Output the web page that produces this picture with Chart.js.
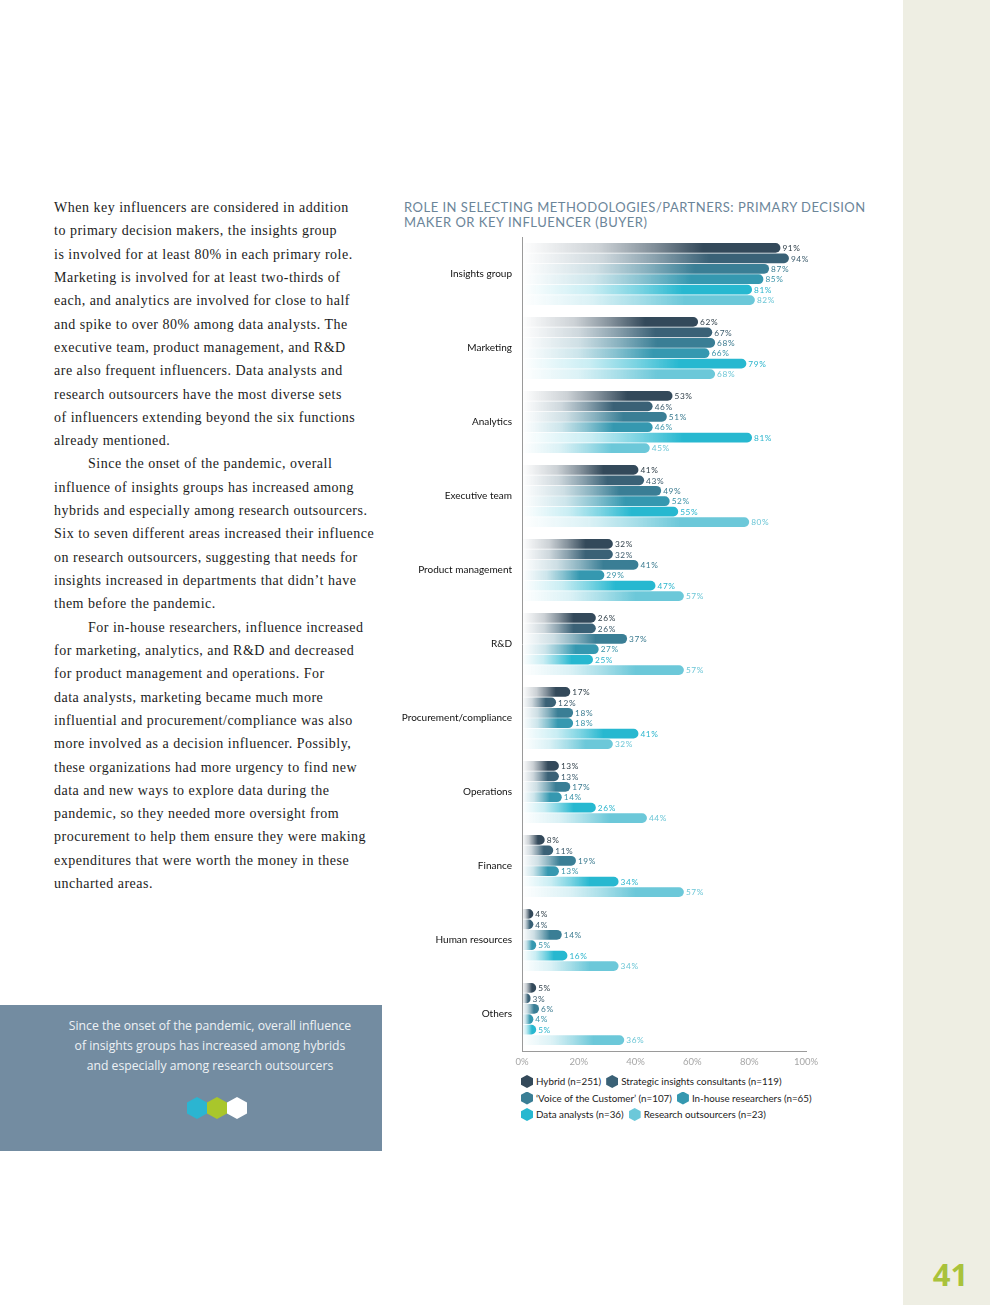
<!DOCTYPE html>
<html>
<head>
<meta charset="utf-8">
<script src="https://cdn.jsdelivr.net/npm/chart.js@4"></script>
<style>
  body { margin: 0; background: #fff; }
  .page { position: relative; width: 990px; height: 1305px; overflow: hidden; background: #fff; }
  .strip { position: absolute; left: 903px; top: 0; width: 87px; height: 1305px; background: #eeeee3; }
  .pagenum { position: absolute; left: 907px; width: 87px; top: 1253px; text-align: center; font: bold 31px "Open Sans", sans-serif; color: #a9c23b; }
  .body { position: absolute; left: 54px; top: 196px; font-family: "Liberation Serif", serif; font-size: 14px; line-height: 23.31px; color: #1c1c1c; white-space: nowrap; letter-spacing: 0.5px; }
  .body .ind { padding-left: 34px; }
  .callout { position: absolute; left: 0; top: 1005px; width: 382px; height: 146px; background: #738ca1; }
  .callout p { margin: 0; position: absolute; left: 0; width: 420px; top: 11px; text-align: center; font: 12.2px/20px "Open Sans", sans-serif; color: #eef2f5; }
  .hex { position: absolute; width: 20px; height: 22px; clip-path: polygon(50% 0, 100% 25%, 100% 75%, 50% 100%, 0 75%, 0 25%); }
  .title { position: absolute; left: 404px; top: 200px; font: 13px/15px Lato, sans-serif; color: #6b8599; letter-spacing: 0.5px; text-transform: uppercase; }
  #wrap { position: absolute; left: 395px; top: 221px; width: 431px; height: 850px; }
  .legend { position: absolute; left: 521px; top: 1073px; font: 9.8px/16.5px Lato, sans-serif; color: #222; }
  .legend .row { white-space: nowrap; }
  .legend .item { display: inline-block; margin-right: 5px; }
  .legend .ico { display: inline-block; width: 12px; height: 13px; vertical-align: -3px; margin-right: 3px; clip-path: polygon(50% 0, 100% 25%, 100% 75%, 50% 100%, 0 75%, 0 25%); }
</style>
</head>
<body>
<div class="page">
  <div class="strip"></div>
  <div class="pagenum">41</div>

  <div class="body">
    When key influencers are considered in addition<br>
    to primary decision makers, the insights group<br>
    is involved for at least 80% in each primary role.<br>
    Marketing is involved for at least two-thirds of<br>
    each, and analytics are involved for close to half<br>
    and spike to over 80% among data analysts. The<br>
    executive team, product management, and R&amp;D<br>
    are also frequent influencers. Data analysts and<br>
    research outsourcers have the most diverse sets<br>
    of influencers extending beyond the six functions<br>
    already mentioned.<br>
    <span class="ind"></span>Since the onset of the pandemic, overall<br>
    influence of insights groups has increased among<br>
    hybrids and especially among research outsourcers.<br>
    Six to seven different areas increased their influence<br>
    on research outsourcers, suggesting that needs for<br>
    insights increased in departments that didn’t have<br>
    them before the pandemic.<br>
    <span class="ind"></span>For in-house researchers, influence increased<br>
    for marketing, analytics, and R&amp;D and decreased<br>
    for product management and operations. For<br>
    data analysts, marketing became much more<br>
    influential and procurement/compliance was also<br>
    more involved as a decision influencer. Possibly,<br>
    these organizations had more urgency to find new<br>
    data and new ways to explore data during the<br>
    pandemic, so they needed more oversight from<br>
    procurement to help them ensure they were making<br>
    expenditures that were worth the money in these<br>
    uncharted areas.
  </div>

  <div class="callout">
    <p>Since the onset of the pandemic, overall influence<br>of insights groups has increased among hybrids<br>and especially among research outsourcers</p>
    <div class="hex" style="left:187px;top:92px;background:#2bb5d1"></div>
    <div class="hex" style="left:207px;top:92px;background:#a9c62b"></div>
    <div class="hex" style="left:227px;top:92px;background:#ffffff"></div>
  </div>

  <div class="title">Role in selecting methodologies/partners: primary decision<br>maker or key influencer (buyer)</div>

  <div id="wrap"><canvas id="roleChart"></canvas></div>
  <div class="legend" id="legend"></div>
</div>

<script>
const categories = ['Insights group', 'Marketing', 'Analytics', 'Executive team', 'Product management', 'R&D',
  'Procurement/compliance', 'Operations', 'Finance', 'Human resources', 'Others'];

const seriesNames = ['Hybrid (n=251)', 'Strategic insights consultants (n=119)', '‘Voice of the Customer’ (n=107)',
  'In-house researchers (n=65)', 'Data analysts (n=36)', 'Research outsourcers (n=23)'];

const hybrid      = [91, 62, 53, 41, 32, 26, 17, 13, 8, 4, 5];
const strategic   = [94, 67, 46, 43, 32, 26, 12, 13, 11, 4, 3];
const voc         = [87, 68, 51, 49, 41, 37, 18, 17, 19, 14, 6];
const inHouse     = [85, 66, 46, 52, 29, 27, 18, 14, 13, 5, 4];
const dataAnalyst = [81, 79, 81, 55, 47, 25, 41, 26, 34, 16, 5];
const outsourcers = [82, 68, 45, 80, 57, 57, 32, 44, 57, 34, 36];

const xTicks = [0, 20, 40, 60, 80, 100];

const barColors = ['#33495a', '#3a6176', '#3a7e95', '#3598b0', '#27b8d0', '#6cc8d9'];
const labelColors = ['#2f3e48', '#3b5a6b', '#3a7a8f', '#3a93a8', '#2bb5cd', '#6cc6d6'];

const allSeries = [hybrid, strategic, voc, inHouse, dataAnalyst, outsourcers];

function rgba(hex, a) {
    const n = parseInt(hex.slice(1), 16);
    return `rgba(${n >> 16}, ${(n >> 8) & 255}, ${n & 255}, ${a})`;
}

// gradient per bar: fades in from the left, full colour near the tip
function fadeFill(color) {
    return (ctx) => {
        const chart = ctx.chart;
        if (!chart.chartArea || ctx.type !== 'data') return color;
        const xs = chart.scales.x;
        const x0 = xs.getPixelForValue(0);
        const x1 = xs.getPixelForValue(ctx.raw);
        if (x1 - x0 < 2) return color;
        const g = chart.ctx.createLinearGradient(x0, 0, x1, 0);
        g.addColorStop(0, rgba(color, 0.0));
        g.addColorStop(0.3, rgba(color, 0.25));
        g.addColorStop(0.5, rgba(color, 0.6));
        g.addColorStop(0.7, rgba(color, 1));
        g.addColorStop(1, rgba(color, 1));
        return g;
    };
}

const valueLabels = {
    id: 'valueLabels',
    afterDatasetsDraw(chart) {
        const ctx = chart.ctx;
        ctx.save();
        ctx.font = '8.3px Lato, sans-serif';
        ctx.letterSpacing = '0.6px';
        ctx.textBaseline = 'middle';
        chart.data.datasets.forEach((ds, i) => {
            chart.getDatasetMeta(i).data.forEach((bar, j) => {
                ctx.fillStyle = labelColors[i];
                ctx.fillText(ds.data[j] + '%', bar.x + 2, bar.y + 0.5);
            });
        });
        ctx.restore();
    }
};

new Chart(document.getElementById('roleChart'), {
    type: 'bar',
    data: {
        labels: categories,
        datasets: allSeries.map((vals, i) => ({
            label: seriesNames[i],
            data: vals,
            backgroundColor: fadeFill(barColors[i]),
            borderWidth: 0,
            borderRadius: { topLeft: 0, bottomLeft: 0, topRight: 5, bottomRight: 5 },
            borderSkipped: 'start',
            categoryPercentage: 0.845,
            barPercentage: 0.93
        }))
    },
    options: {
        indexAxis: 'y',
        responsive: true,
        maintainAspectRatio: false,
        animation: false,
        layout: { padding: { top: 5, right: 20, bottom: 0, left: 0 } },
        plugins: {
            legend: { display: false },
            tooltip: { enabled: false }
        },
        scales: {
            x: {
                min: 0,
                max: 100,
                afterBuildTicks: (scale) => { scale.ticks = xTicks.map(v => ({ value: v })); },
                afterFit: (scale) => { scale.height = 20; },
                grid: { display: false, drawTicks: false },
                border: { display: true, color: '#9a9a9a', width: 1 },
                ticks: {
                    padding: 5,
                    color: '#a6a6a6',
                    font: { family: 'Lato, sans-serif', size: 9.5 },
                    callback: (v) => v + '%'
                }
            },
            y: {
                afterFit: (scale) => { scale.width = 127; },
                grid: { display: false, drawTicks: false },
                border: { display: true, color: '#9a9a9a', width: 1 },
                ticks: {
                    padding: 10,
                    color: '#111',
                    font: { family: 'Lato, sans-serif', size: 10 }
                }
            }
        }
    },
    plugins: [valueLabels]
});

// html legend, two entries per row like the printed page
const legend = document.getElementById('legend');
for (let r = 0; r < seriesNames.length; r += 2) {
    const row = document.createElement('div');
    row.className = 'row';
    [r, r + 1].forEach(i => {
        const item = document.createElement('span');
        item.className = 'item';
        item.innerHTML = `<span class="ico" style="background:${barColors[i]}"></span>${seriesNames[i]}`;
        row.appendChild(item);
    });
    legend.appendChild(row);
}
</script>
</body>
</html>
